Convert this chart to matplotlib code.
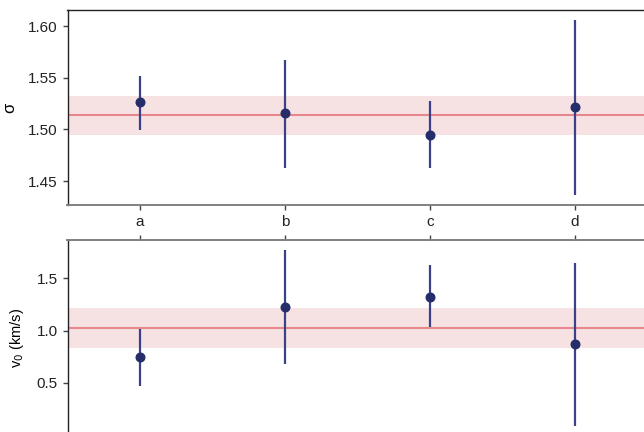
import matplotlib
matplotlib.use("Agg")
import matplotlib.pyplot as plt

plt.rcParams['font.family'] = ['Liberation Sans', 'DejaVu Sans']

categories = ['a', 'b', 'c', 'd']
sigma_vals = [1.526, 1.5155, 1.495, 1.5213]
sigma_lo = [1.499, 1.463, 1.463, 1.436]
sigma_hi = [1.552, 1.567, 1.527, 1.606]
sigma_mean = 1.5135
sigma_band = (1.4942, 1.532)

v0_vals = [0.748, 1.23, 1.326, 0.869]
v0_lo = [0.47, 0.684, 1.038, 0.087]
v0_hi = [1.016, 1.776, 1.632, 1.651]
v0_mean = 1.026
v0_band = (0.837, 1.22)

W, H = 644, 432
fig = plt.figure(figsize=(W / 100, H / 100), dpi=100)

def px(l, t, r, b):
    return [l / W, 1 - b / H, (r - l) / W, (b - t) / H]

ax1 = fig.add_axes(px(67.5, 10, 647.5, 205))
ax2 = fig.add_axes(px(67.5, 240, 647.5, 435))

pt_color = '#252e6b'
err_color = '#3b4189'
line_color = '#e8878b'
band_color = '#f6e2e3'

x = list(range(len(categories)))

def draw(ax, vals, lo, hi, mean, band):
    ax.axhspan(band[0], band[1], color=band_color, lw=0, zorder=0)
    ax.axhline(mean, color=line_color, lw=1.5, zorder=1)
    yerr = [[v - l for v, l in zip(vals, lo)], [h - v for v, h in zip(vals, hi)]]
    ax.errorbar(x, vals, yerr=yerr, fmt='o', color=pt_color, ecolor=err_color,
                elinewidth=1.6, capsize=0, markersize=6.2, zorder=3)
    ax.set_xlim(-0.5, 3.5)
    for s in ['left', 'top', 'right', 'bottom']:
        ax.spines[s].set_color('#222222')
        ax.spines[s].set_linewidth(1.0)
    ax.tick_params(axis='both', labelsize=11, color='#444444', length=3.5, width=1,
                   labelcolor='#222222')

draw(ax1, sigma_vals, sigma_lo, sigma_hi, sigma_mean, sigma_band)
draw(ax2, v0_vals, v0_lo, v0_hi, v0_mean, v0_band)

ax1.set_ylim(1.4268, 1.6155)
ax1.set_yticks([1.45, 1.50, 1.55, 1.60])
ax1.set_yticklabels(['1.45', '1.50', '1.55', '1.60'])
ax1.set_xticks(x)
ax1.set_xticklabels(categories, fontsize=11)
ax1.spines['bottom'].set_color('#808080')
ax1.spines['bottom'].set_linewidth(1.4)
ax1.set_ylabel('σ', fontsize=12, labelpad=8)

ax2.set_ylim(0.0, 1.867)
ax2.set_yticks([0.5, 1.0, 1.5])
ax2.set_xticks(x)
ax2.tick_params(axis='x', top=True, bottom=True, labeltop=False, labelbottom=False)
ax2.spines['top'].set_color('#808080')
ax2.spines['top'].set_linewidth(1.4)
ax2.set_ylabel('v$_0$ (km/s)', fontsize=10.5, labelpad=8)

fig.savefig('out.png', dpi=100)
